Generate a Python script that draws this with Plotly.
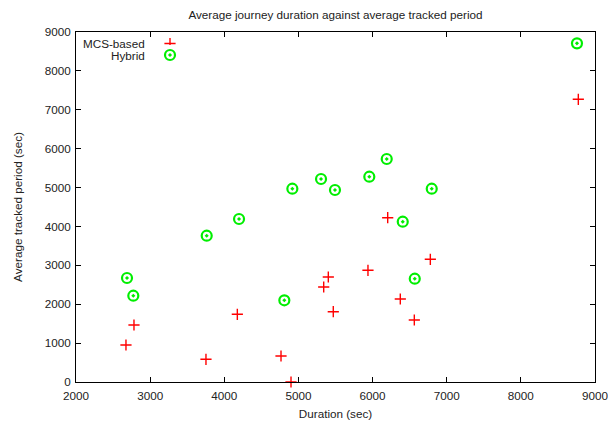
import plotly.graph_objects as go

# Data
mcs_duration = [2674, 2782, 3753, 4176, 4765, 4900, 5341, 5403, 5470, 5938, 6204, 6374, 6563, 6779, 8775]
mcs_tracked = [951, 1466, 584, 1741, 669, 0, 2443, 2700, 1808, 2872, 4225, 2134, 1594, 3155, 7269]

hyb_duration = [2688, 2773, 3763, 4199, 4810, 4918, 5305, 5493, 5956, 6191, 6407, 6569, 6798, 8757]
hyb_tracked = [2674, 2219, 3762, 4191, 2101, 4970, 5220, 4937, 5279, 5734, 4122, 2656, 4970, 8709]

series_names = ["MCS-based", "Hybrid"]
x_ticks = [2000, 3000, 4000, 5000, 6000, 7000, 8000, 9000]
y_ticks = [0, 1000, 2000, 3000, 4000, 5000, 6000, 7000, 8000, 9000]

FONT = "Liberation Sans, Arial, Helvetica, sans-serif"
FS = 11.7
TXT = "#222222"
RED = "#ff0000"
GREEN = "#00ee00"

# The page body adds an 8px offset; work in page pixels and subtract it.
OFF = 8
W, H = 616 - OFF, 421 - OFF
L, R, T, B = 76 - OFF, 595 - OFF, 32 - OFF, 382 - OFF

plus_marker = dict(symbol="cross-thin", size=8, color=RED, line=dict(color=RED, width=1.4))
circ_marker = dict(symbol="circle-open-dot", size=10, color=GREEN, line=dict(color=GREEN, width=2.2))

fig = go.Figure()
fig.add_trace(go.Scatter(x=mcs_duration, y=mcs_tracked, mode="markers", name=series_names[0],
                         marker=plus_marker, showlegend=False, cliponaxis=False))
fig.add_trace(go.Scatter(x=hyb_duration, y=hyb_tracked, mode="markers", name=series_names[1],
                         marker=circ_marker, showlegend=False, cliponaxis=False))


def px_dom_x(cx, half=10):
    cx -= OFF
    return [(cx - half - L) / (R - L), (cx + half - L) / (R - L)]


def px_dom_y(cy, half=10):
    cy -= OFF
    return [(B - cy - half) / (B - T), (B - cy + half) / (B - T)]


# Legend keys (gnuplot style: text right-aligned, sample on the right)
fig.add_trace(go.Scatter(x=[0.5], y=[0.5], mode="markers", marker=plus_marker, xaxis="x2", yaxis="y2",
                         showlegend=False, hoverinfo="skip"))
fig.add_trace(go.Scatter(x=[0.5], y=[0.5], mode="markers", marker=circ_marker, xaxis="x3", yaxis="y3",
                         showlegend=False, hoverinfo="skip"))

axis_common = dict(showgrid=False, zeroline=False, showline=True, linecolor="black", linewidth=1,
                   mirror="ticks", ticks="inside", ticklen=5, tickcolor="black", automargin=False,
                   tickfont=dict(family=FONT, size=FS, color=TXT))

fig.update_layout(
    width=W, height=H,
    margin=dict(l=L, r=W - R, t=T, b=H - B, autoexpand=False),
    paper_bgcolor="white", plot_bgcolor="white",
    title=dict(text="Average journey duration against average tracked period",
               x=(L + R) / 2 / W, xanchor="center", xref="container",
               y=1 - (15 - OFF) / H, yanchor="middle", yref="container", automargin=False,
               font=dict(family=FONT, size=FS, color=TXT)),
    xaxis=dict(range=[2000, 9000], tickvals=x_ticks, ticktext=[str(v) for v in x_ticks],
               ticklabelstandoff=3,
               title=dict(text="Duration (sec)", font=dict(family=FONT, size=FS, color=TXT), standoff=8),
               **axis_common),
    yaxis=dict(range=[0, 9000], tickvals=y_ticks, ticktext=[str(v) for v in y_ticks],
               ticklabelstandoff=2,
               title=dict(text="Average tracked period (sec)", font=dict(family=FONT, size=FS, color=TXT), standoff=19),
               **axis_common),
    xaxis2=dict(domain=px_dom_x(170), range=[0, 1], visible=False, anchor="y2"),
    yaxis2=dict(domain=px_dom_y(43.5), range=[0, 1], visible=False, anchor="x2"),
    xaxis3=dict(domain=px_dom_x(170), range=[0, 1], visible=False, anchor="y3"),
    yaxis3=dict(domain=px_dom_y(55), range=[0, 1], visible=False, anchor="x3"),
    annotations=[
        dict(text=series_names[0], xref="paper", yref="paper",
             x=(147 - OFF - L) / (R - L), y=(B - (43 - OFF)) / (B - T),
             xanchor="right", yanchor="middle", showarrow=False,
             font=dict(family=FONT, size=FS, color=TXT)),
        dict(text=series_names[1], xref="paper", yref="paper",
             x=(147 - OFF - L) / (R - L), y=(B - (55 - OFF)) / (B - T),
             xanchor="right", yanchor="middle", showarrow=False,
             font=dict(family=FONT, size=FS, color=TXT)),
    ],
)

fig.write_html("out.html")
